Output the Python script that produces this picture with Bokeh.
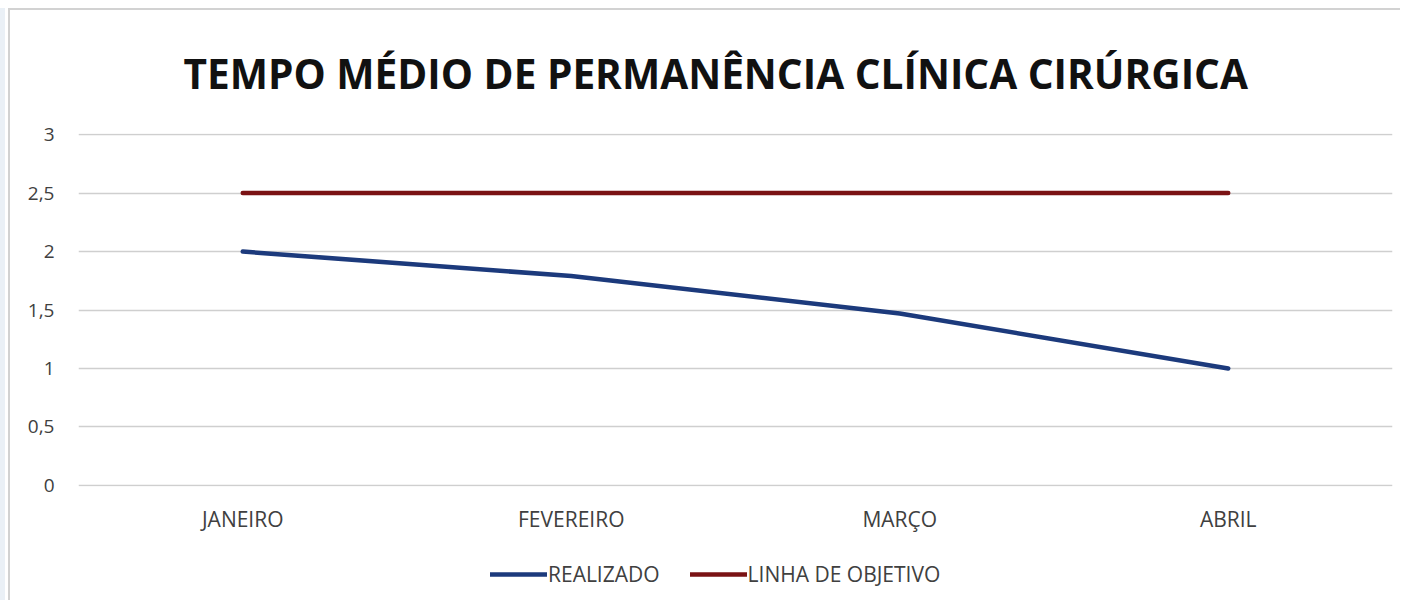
from bokeh.plotting import figure
from bokeh.layouts import column
from bokeh.models import Range1d, FixedTicker, Legend, LegendItem, ColumnDataSource
from bokeh.embed import file_html
from bokeh.resources import INLINE

months = ["JANEIRO", "FEVEREIRO", "MARÇO", "ABRIL"]
realizado = [2.0, 1.79, 1.47, 1.0]
objetivo = [2.5, 2.5, 2.5, 2.5]
y_ticks = [0, 0.5, 1, 1.5, 2, 2.5, 3]
y_labels = ["0", "0,5", "1", "1,5", "2", "2,5", "3"]
title_text = "TEMPO MÉDIO DE PERMANÊNCIA CLÍNICA CIRÚRGICA"
series_names = ["REALIZADO", "LINHA DE OBJETIVO"]

FONT = "Open Sans"
BLUE = "#1c3a7c"
RED = "#7a1214"
TXT = "#404040"
W = 1390

src = ColumnDataSource(dict(m=months, r=realizado, o=objetivo))

p = figure(width=W, height=550, x_range=months, y_range=Range1d(-0.01, 3.01),
           output_backend="svg", toolbar_location=None,
           min_border_left=68, min_border_right=8, min_border_top=117, min_border_bottom=74)
p.title.text = title_text
p.title.align = "left"
p.title.offset = 105
p.title.standoff = 66
p.title.text_font = FONT
p.title.text_font_style = "bold"
p.title.text_font_size = "40.6px"
p.title.text_color = "#111111"
p.outline_line_color = None
p.background_fill_color = "white"
p.border_fill_color = "white"

p.xgrid.grid_line_color = None
p.ygrid.grid_line_color = "#cfcfcf"
p.ygrid.grid_line_width = 1.6
p.ygrid.ticker = FixedTicker(ticks=y_ticks)

p.yaxis.ticker = FixedTicker(ticks=y_ticks)
p.yaxis.major_label_overrides = {t_: l for t_, l in zip(y_ticks, y_labels)}
p.yaxis.axis_line_color = None
p.yaxis.major_tick_line_color = None
p.yaxis.minor_tick_line_color = None
p.yaxis.major_label_text_font = FONT
p.yaxis.major_label_text_font_size = "19px"
p.yaxis.major_label_text_color = TXT
p.yaxis.major_label_standoff = 18

p.xaxis.axis_line_color = None
p.xaxis.major_tick_line_color = None
p.xaxis.major_label_text_font = FONT
p.xaxis.major_label_text_font_size = "21px"
p.xaxis.major_label_text_color = TXT
p.xaxis.major_label_standoff = 12

p.line("m", "r", source=src, line_color=BLUE, line_width=4.5, line_cap="round", line_join="round")
p.line("m", "o", source=src, line_color=RED, line_width=4.5, line_cap="round")

# legend strip: same series, drawn out of view so that only the legend shows
lg = figure(width=W, height=40, x_range=months, y_range=Range1d(100, 101),
            output_backend="svg", toolbar_location=None,
            min_border_left=0, min_border_right=0, min_border_top=0, min_border_bottom=0)
lg.axis.visible = False
lg.grid.grid_line_color = None
lg.outline_line_color = None
l1 = lg.line("m", "r", source=src, line_color=BLUE, line_width=4.5, line_cap="round")
l2 = lg.line("m", "o", source=src, line_color=RED, line_width=4.5, line_cap="round")
legend = Legend(items=[LegendItem(label=series_names[0], renderers=[l1]),
                       LegendItem(label=series_names[1], renderers=[l2])],
                orientation="horizontal", location=(412, 12),
                label_text_font=FONT, label_text_font_size="21px", label_text_color=TXT,
                glyph_width=57, label_standoff=1, spacing=30, border_line_color=None,
                background_fill_alpha=0, margin=0, padding=0)
lg.add_layout(legend)

layout = column(p, lg, spacing=0, margin=(8, 0, 0, 8))
layout.styles = {"border-left": "2px solid #d2d2d2", "border-top": "2px solid #d2d2d2",
                 "box-shadow": "-3px 0 0 0 #ffffff, -8px 0 0 0 #eaf0f6"}

open("out.html", "w").write(file_html(layout, INLINE))
